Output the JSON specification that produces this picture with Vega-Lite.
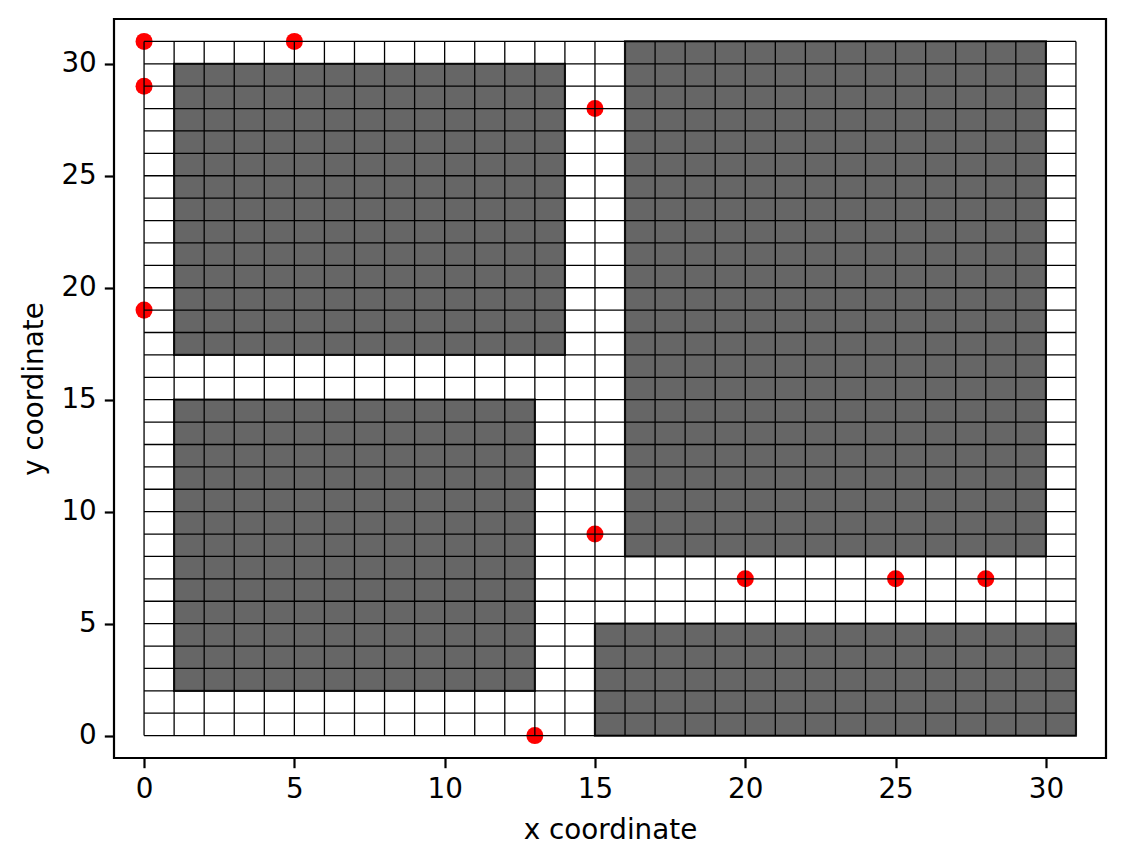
{
  "$schema": "https://vega.github.io/schema/vega-lite/v6.json",
  "width": 992,
  "height": 739,
  "autosize": {"type": "none"},
  "padding": {"left": 114, "top": 19, "right": 20, "bottom": 107},
  "background": "white",
  "config": {
    "view": {"stroke": "black", "strokeWidth": 2.2},
    "axis": {
      "domain": false,
      "grid": false,
      "ticks": true,
      "tickColor": "black",
      "tickWidth": 2.2,
      "tickSize": 9.7,
      "labelFont": "DejaVu Sans",
      "labelFontSize": 27.8,
      "labelColor": "black",
      "labelPadding": 8,
      "titleFont": "DejaVu Sans",
      "titleFontSize": 27.8,
      "titleFontWeight": "normal",
      "titleColor": "black"
    }
  },
  "datasets": {
    "obstacles": [
      {"x": 1, "x2": 14, "y": 17, "y2": 30},
      {"x": 1, "x2": 13, "y": 2, "y2": 15},
      {"x": 16, "x2": 30, "y": 8, "y2": 31},
      {"x": 15, "x2": 31, "y": 0, "y2": 5}
    ],
    "points": [
      {"x": 0, "y": 31}, {"x": 5, "y": 31}, {"x": 0, "y": 29}, {"x": 15, "y": 28},
      {"x": 0, "y": 19}, {"x": 15, "y": 9}, {"x": 20, "y": 7}, {"x": 25, "y": 7},
      {"x": 28, "y": 7}, {"x": 13, "y": 0}
    ],
    "lines": [
      {"v": 0}, {"v": 1}, {"v": 2}, {"v": 3}, {"v": 4}, {"v": 5}, {"v": 6}, {"v": 7},
      {"v": 8}, {"v": 9}, {"v": 10}, {"v": 11}, {"v": 12}, {"v": 13}, {"v": 14}, {"v": 15},
      {"v": 16}, {"v": 17}, {"v": 18}, {"v": 19}, {"v": 20}, {"v": 21}, {"v": 22}, {"v": 23},
      {"v": 24}, {"v": 25}, {"v": 26}, {"v": 27}, {"v": 28}, {"v": 29}, {"v": 30}, {"v": 31}
    ]
  },
  "layer": [
    {
      "data": {"name": "obstacles"},
      "mark": {"type": "rect", "fill": "#666666", "stroke": "#2a2a2a", "strokeWidth": 2.2},
      "encoding": {
        "x": {"field": "x", "type": "quantitative", "scale": {"domain": [-1, 32], "nice": false, "zero": false},
              "axis": {"values": [0, 5, 10, 15, 20, 25, 30], "title": "x coordinate", "titlePadding": 13}},
        "x2": {"field": "x2"},
        "y": {"field": "y", "type": "quantitative", "scale": {"domain": [-1, 32], "nice": false, "zero": false},
              "axis": {"values": [0, 5, 10, 15, 20, 25, 30], "title": "y coordinate", "titlePadding": 12}},
        "y2": {"field": "y2"}
      }
    },
    {
      "data": {"name": "points"},
      "mark": {"type": "circle", "color": "#ff0000", "opacity": 1, "size": 290},
      "encoding": {
        "x": {"field": "x", "type": "quantitative"},
        "y": {"field": "y", "type": "quantitative"}
      }
    },
    {
      "data": {"name": "lines"},
      "mark": {"type": "rule", "color": "black", "strokeWidth": 1.3},
      "encoding": {
        "x": {"field": "v", "type": "quantitative"},
        "y": {"datum": 0},
        "y2": {"datum": 31}
      }
    },
    {
      "data": {"name": "lines"},
      "mark": {"type": "rule", "color": "black", "strokeWidth": 1.3},
      "encoding": {
        "y": {"field": "v", "type": "quantitative"},
        "x": {"datum": 0},
        "x2": {"datum": 31}
      }
    }
  ]
}
